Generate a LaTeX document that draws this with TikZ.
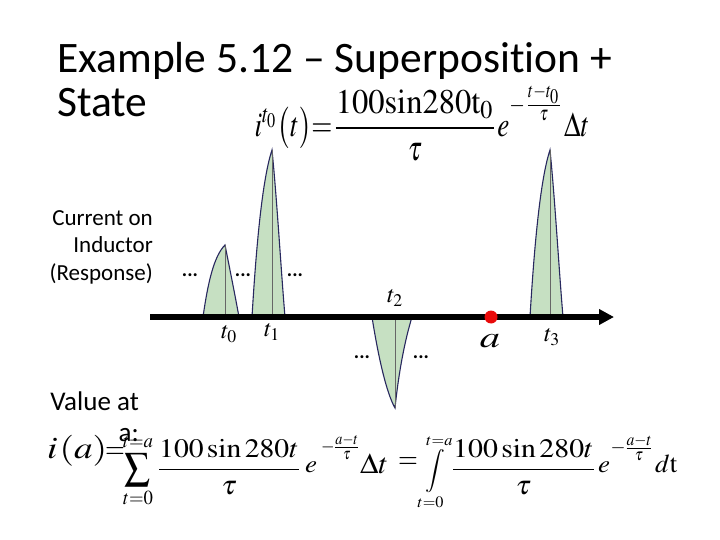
\documentclass[tikz,border=0pt]{standalone}
\usepackage{amsmath}
\usepackage{mathptmx}
\usepackage[no-math]{fontspec}
\setmainfont[Ligatures=NoCommon]{Carlito}
\usetikzlibrary{arrows.meta}
\definecolor{pulsegreen}{RGB}{198,224,194}
\definecolor{pulseedge}{RGB}{40,40,95}
\definecolor{dotred}{RGB}{232,10,10}
\tikzset{
  pulse/.style={fill=pulsegreen, draw=none},
  pulseline/.style={draw=pulseedge, line width=1.1pt},
  peakline/.style={draw=black!60, line width=0.6pt},
  titletext/.style={font=\fontsize{43.5}{44}\selectfont, inner sep=0pt},
  bodytext/.style={font=\fontsize{23}{27.5}\selectfont, inner sep=0pt},
  bodybig/.style={font=\fontsize{27}{31}\selectfont, inner sep=0pt},
  dotstext/.style={font=\fontsize{20}{24}\selectfont\bfseries, inner sep=0pt},
  tlabel/.style={font=\fontsize{24}{28}\selectfont, inner sep=0pt},
  fp/.style={inner sep=0pt, font=\fontsize{30}{30}\selectfont},
}
\begin{document}
\begin{tikzpicture}[x=1pt,y=-1pt]
\useasboundingbox (0,0) rectangle (720,540);
% title
\node[titletext, anchor=base west] (title1) at (57,73) {Example 5.12 – Superposition +};
\node[titletext, anchor=base west] (title2) at (57,117) {State};
% top formula
\node[inner sep=0pt] (f1) at (422,123) {\resizebox*{335pt}{76pt}{$\displaystyle i^{t_0}\bigl(t\bigr){=}\frac{\scalebox{1.2}[1]{$100\mathrm{sin}280\mathrm{t}_0$}}{\tau}e^{\raisebox{3pt}{$\scriptstyle -\frac{t-t_0}{\tau}$}}\Delta t$}};
% left labels
\node[bodytext, align=right, anchor=base east] (lab1) at (153,280) {Current on\\Inductor\\(Response)};
\node[bodybig, align=right, anchor=base east] (lab2) at (139,441) {Value at\\a:};
% pulses
\fill[pulse] (203,317) .. controls (208,282) and (214,256) .. (225,245) .. controls (230,270) and (235,295) .. (239,317) -- cycle;
\draw[pulseline] (203,317) .. controls (208,282) and (214,256) .. (225,245) .. controls (230,270) and (235,295) .. (239,317);
\draw[peakline] (225,245) -- (225,317);
\fill[pulse] (252,317) .. controls (256,250) and (262,180) .. (272,150) .. controls (277,200) and (281,270) .. (285,317) -- cycle;
\draw[pulseline] (252,317) .. controls (256,250) and (262,180) .. (272,150) .. controls (277,200) and (281,270) .. (285,317);
\draw[peakline] (272,150) -- (272,317);
\fill[pulse] (372,317) .. controls (378,355) and (386,392) .. (395,408) .. controls (399,370) and (405,340) .. (412,317) -- cycle;
\draw[pulseline] (372,317) .. controls (378,355) and (386,392) .. (395,408) .. controls (399,370) and (405,340) .. (412,317);
\draw[peakline] (395,317) -- (395,408);
\fill[pulse] (530,317) .. controls (534,250) and (540,180) .. (550,150) .. controls (555,200) and (559,270) .. (563,317) -- cycle;
\draw[pulseline] (530,317) .. controls (534,250) and (540,180) .. (550,150) .. controls (555,200) and (559,270) .. (563,317);
\draw[peakline] (550,150) -- (550,317);
% axis
\coordinate (axs) at (150,317);
\coordinate (axe) at (614,317);
\draw[line width=5.5pt, -{Triangle[length=15pt,width=15pt]}] (axs) -- (axe);
% red dot
\fill[dotred] (491,317) circle (6.5);
% dots
\node[dotstext] (d1) at (190,275) {...};
\node[dotstext] (d2) at (243,275) {...};
\node[dotstext] (d3) at (295,275) {...};
\node[dotstext] (d4) at (362,357) {...};
\node[dotstext] (d5) at (421,357) {...};
% time labels
\node[tlabel] (t0) at (229,334) {$t_0$};
\node[tlabel] (t1) at (272,332) {$t_1$};
\node[tlabel] (t2) at (395,298) {$t_2$};
\node[tlabel] (t3) at (552,337) {$t_3$};
\node[inner sep=0pt] (la) at (490,341) {\fontsize{30}{30}\selectfont\scalebox{1.35}[1]{$\boldsymbol{a}$}};
% bottom formula, piece by piece
\node[fp, anchor=west] (b1) at (47,451) {\resizebox*{60pt}{31pt}{$i\mkern1mu(a)$}};
\node[fp] (b2) at (115,453) {\scalebox{0.85}[1]{$=$}};
\node[fp] (b3) at (138,471) {\resizebox*{30pt}{73pt}{$\displaystyle\sum_{t=0}^{t=a}$}};
\node[fp] (b4) at (229,467) {\resizebox*{142pt}{55pt}{$\displaystyle\frac{100\sin 280t}{\tau}$}};
\node[fp, anchor=south west] (b5) at (305,473) {\resizebox*{12pt}{11pt}{$e$}};
\node[fp] (b6) at (340,447) {\resizebox*{38pt}{25pt}{$\scriptstyle -\frac{a-t}{\tau}$}};
\node[fp, anchor=south west] (b7) at (360,474) {\resizebox*{28pt}{20pt}{$\Delta t$}};
\node[fp] (b8) at (408,463) {\scalebox{0.85}[1]{$=$}};
\node[fp] (b9) at (435,472) {\resizebox*{26pt}{75pt}{$\displaystyle\int\limits_{t=0}^{t=a}$}};
\node[fp] (b10) at (523.5,467) {\resizebox*{143pt}{55pt}{$\displaystyle\frac{100\sin 280t}{\tau}$}};
\node[fp, anchor=south west] (b11) at (598,473) {\resizebox*{12pt}{11pt}{$e$}};
\node[fp] (b12) at (631.5,448) {\resizebox*{42pt}{26pt}{$\scriptstyle -\frac{a-t}{\tau}$}};
\node[fp, anchor=south west] (b13) at (655,473) {\resizebox*{22pt}{18pt}{$d\mathrm{t}$}};
\end{tikzpicture}
\end{document}
